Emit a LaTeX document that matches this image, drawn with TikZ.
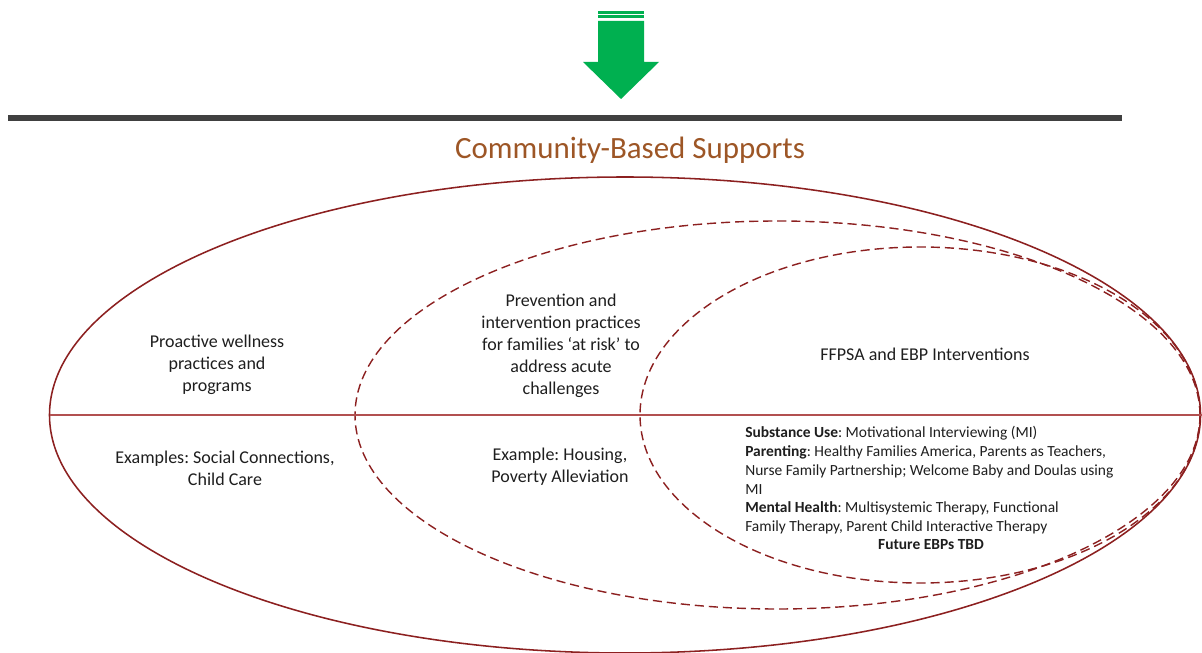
\documentclass[tikz,border=0pt]{standalone}
\usepackage{fontspec}
\setmainfont{Carlito}
\frenchspacing
\definecolor{ovalred}{RGB}{140,32,32}
\definecolor{splitred}{RGB}{178,80,80}
\definecolor{titlebrown}{RGB}{157,86,38}
\definecolor{arrowgreen}{RGB}{0,176,80}
\definecolor{bargray}{RGB}{64,64,64}
\definecolor{textgray}{RGB}{30,30,30}
\tikzset{
  oval/.style={draw=ovalred, line width=1.1pt},
  dashoval/.style={draw=ovalred, line width=1pt, dash pattern=on 6.5pt off 3.5pt},
  bodytext/.style={align=center, text=textgray, inner sep=0pt,
    font=\fontsize{12.8}{15.6}\selectfont},
  listtext/.style={align=left, text=textgray, inner sep=0pt,
    font=\fontsize{11}{13.4}\selectfont}
}
\begin{document}
\begin{tikzpicture}[x=0.025cm, y=0.025cm]
    \useasboundingbox (0,0) rectangle (1202,652);

    % arrow
    \fill[arrowgreen] (598,638) rectangle (644,640.5);
    \fill[arrowgreen] (598,634) rectangle (644,636.5);
    \fill[arrowgreen] (598,631) -- (644,631) -- (644,590) -- (659,590)
        -- (621,553) -- (583,590) -- (598,590) -- cycle;

    \draw[bargray, line width=4.3pt] (8,534) -- (1122,534);

    \node[text=titlebrown, font=\fontsize{22}{26}\selectfont] (title) at (630,502) {Community-Based Supports};

    % ovals
    \draw[oval] (625,237) ellipse [x radius=575.5, y radius=238];
    \draw[dashoval] (777.5,237) ellipse [x radius=422.5, y radius=194];
    \draw[dashoval] (920,237) ellipse [x radius=280, y radius=168];
    \draw[splitred, line width=1.1pt] (50,237) -- (1202,237);

    \node[bodytext] (wellness) at (217,287) {Proactive wellness\\practices and\\programs};
    \node[bodytext] (wellnessex) at (225,184) {Examples: Social Connections,\\Child Care};
    \node[bodytext] (prevention) at (561,306) {Prevention and\\intervention practices\\for families ‘at risk’ to\\address acute\\challenges};
    \node[bodytext] (preventionex) at (560,185) {Example: Housing,\\Poverty Alleviation};
    \node[bodytext] (ffpsa) at (925,298) {FFPSA and EBP Interventions};

    \node[listtext, anchor=north west] (ebplist) at (745,226) {\textbf{Substance Use}: Motivational Interviewing (MI)\\
        \textbf{Parenting}: Healthy Families America, Parents as Teachers,\\
        Nurse Family Partnership; Welcome Baby and Doulas using\\
        MI\\
        \textbf{Mental Health}: Multisystemic Therapy, Functional\\
        Family Therapy, Parent Child Interactive Therapy};
    \node[listtext, font=\fontsize{11}{13.4}\selectfont\bfseries] (future) at (931,107) {Future EBPs TBD};

\end{tikzpicture}
\end{document}
